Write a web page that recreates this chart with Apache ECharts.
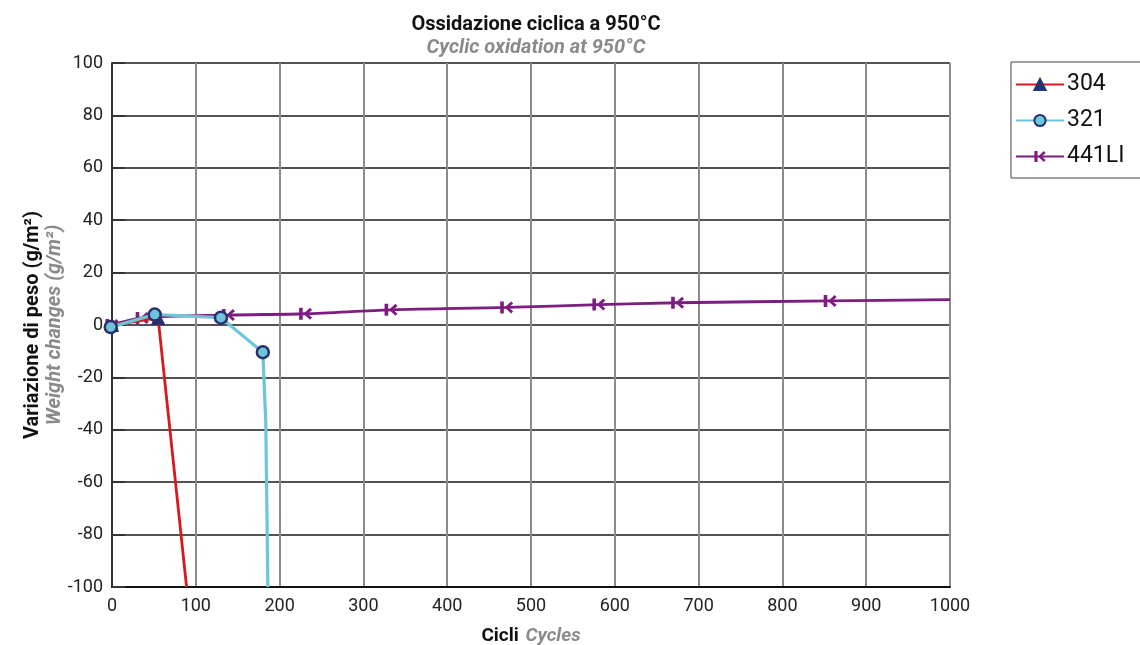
<!DOCTYPE html>
<html>
<head>
<meta charset="utf-8">
<script src="https://cdn.jsdelivr.net/npm/echarts@6/dist/echarts.min.js"></script>
<style>
  html, body { margin: 0; padding: 0; background: #fff; }
  #chart { width: 1140px; height: 645px; }
</style>
</head>
<body>
<div id="chart"></div>
<script>
// dati
const seriesNames = ['304', '321', '441LI']
const data304 = [[0, 0], [55, 2.7], [89, -100]]
const data321 = [[-1.5, -0.8], [51, 4], [130, 2.8], [180, -10.4], [183.5, -37], [186, -100]]
const data441 = [[0, 0], [36, 2.7], [139, 3.8], [231, 4.3], [333, 5.8], [471, 6.7], [581, 7.8], [675, 8.5], [857, 9.2], [1000, 9.7]]
// quanti punti finali senza marcatore
const tail304 = 1
const tail321 = 2
const tail441 = 1

const red = '#d7191f'
const cyan = '#6cc6d9'
const purple = '#7d1d80'
const navy = '#2b2f6e'
const font = 'Roboto'

// simbolo "|<" della serie 441LI
const barArrow = 'path://M0,0 L2.8,0 L2.8,10 L0,10 Z M3.4,5 L8.4,0 L10,1.8 L6.4,5 L10,8.2 L8.4,10 Z'

// gli ultimi punti senza marcatore
const noTailSymbol = (arr, n) => arr.map((p, i) => i >= arr.length - n ? { value: p, symbol: 'none' } : p)

const option = {
  animation: false,
  title: {
    text: 'Ossidazione ciclica a 950°C',
    subtext: 'Cyclic oxidation at 950°C',
    left: 531,
    top: 10,
    textAlign: 'center',
    itemGap: 3,
    textStyle: { fontFamily: font, fontSize: 20, fontWeight: 'bold', color: '#111' },
    subtextStyle: { fontFamily: font, fontSize: 20, fontStyle: 'italic', fontWeight: 'bold', color: '#8a8a8a' }
  },
  legend: {
    orient: 'vertical',
    left: 1011,
    top: 62,
    data: seriesNames,
    itemWidth: 48,
    itemHeight: 14,
    itemGap: 13,
    padding: [11, 30, 10, 4],
    borderColor: '#444',
    borderWidth: 1,
    textStyle: { fontFamily: font, fontSize: 23, color: '#111', padding: [0, 0, 0, -2] }
  },
  grid: { left: 112, right: 190, top: 63, bottom: 58, outerBoundsMode: 'none' },
  xAxis: {
    type: 'value',
    min: 0,
    max: 1000,
    interval: 100,
    name: '{a|Cicli}  {b|Cycles}',
    nameLocation: 'middle',
    nameGap: 40,
    nameMoveOverlap: false,
    nameTextStyle: {
      rich: {
        a: { fontFamily: font, fontSize: 19, fontWeight: 'bold', color: '#111' },
        b: { fontFamily: font, fontSize: 19, fontStyle: 'italic', fontWeight: 'bold', color: '#8a8a8a' }
      }
    },
    axisLine: { onZero: false, lineStyle: { color: '#111', width: 2 } },
    axisTick: { show: false },
    axisLabel: { fontFamily: font, fontSize: 18, color: '#222', margin: 10, formatter: v => String(v) },
    splitLine: { lineStyle: { color: '#8c8c8c', width: 2 } }
  },
  yAxis: {
    type: 'value',
    min: -100,
    max: 100,
    interval: 20,
    name: '{a|Variazione di peso (g/m²)}\n{b|Weight changes (g/m²)}',
    nameLocation: 'middle',
    nameRotate: 90,
    nameGap: 46,
    nameMoveOverlap: false,
    nameTextStyle: {
      rich: {
        a: { fontFamily: font, fontSize: 20, fontWeight: 'bold', color: '#111', lineHeight: 22 },
        b: { fontFamily: font, fontSize: 20, fontStyle: 'italic', fontWeight: 'bold', color: '#8a8a8a', lineHeight: 22 }
      }
    },
    axisLine: { show: true, lineStyle: { color: '#333', width: 2 } },
    axisTick: { show: true, inside: true, length: 13, lineStyle: { color: '#333', width: 2 } },
    axisLabel: { fontFamily: font, fontSize: 18, color: '#222', margin: 9 },
    splitLine: { lineStyle: { color: '#1a1a1a', width: 1.5 } }
  },
  series: [
    {
      name: '304',
      type: 'line',
      z: 3,
      data: noTailSymbol(data304, tail304),
      symbol: 'triangle',
      symbolSize: 13,
      lineStyle: { color: red, width: 2.8 },
      itemStyle: { color: navy, borderColor: navy, borderWidth: 1 }
    },
    {
      name: '321',
      type: 'line',
      z: 4,
      clip: false,
      data: noTailSymbol(data321, tail321),
      symbol: 'circle',
      symbolSize: 12,
      lineStyle: { color: cyan, width: 3.2 },
      itemStyle: { color: cyan, borderColor: navy, borderWidth: 2.5 }
    },
    {
      name: '441LI',
      type: 'line',
      z: 2,
      smooth: 0.3,
      data: noTailSymbol(data441, tail441),
      symbol: barArrow,
      symbolSize: [13, 12],
      lineStyle: { color: purple, width: 2.8 },
      itemStyle: { color: purple }
    }
  ]
}

const chart = echarts.init(document.getElementById('chart'))
chart.setOption(option)
</script>
</body>
</html>
